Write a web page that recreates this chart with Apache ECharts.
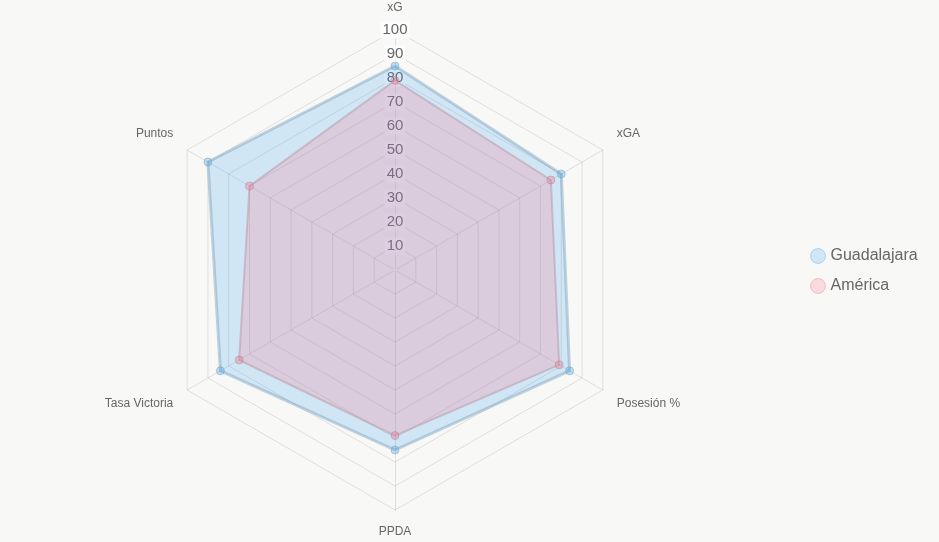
<!DOCTYPE html>
<html>
<head>
<meta charset="utf-8">
<script src="https://cdn.jsdelivr.net/npm/echarts@6/dist/echarts.min.js"></script>
<style>
  html, body { margin: 0; padding: 0; background: #f8f8f7; }
  #chart { width: 939px; height: 542px; }
</style>
</head>
<body>
<div id="chart"></div>
<script>
// ejes del radar (orden en sentido horario desde arriba)
const indicators = ['xG', 'xGA', 'Posesión %', 'PPDA', 'Tasa Victoria', 'Puntos']
const teams = ['Guadalajara', 'América']
const guadalajara = [85, 80, 84, 75, 84, 90]
const america = [79, 75, 79, 69, 75, 70]

// echarts dibuja el radar en sentido antihorario, hay que invertir el orden
const order = [0, 5, 4, 3, 2, 1]
const reorder = arr => order.map(i => arr[i])

const chart = echarts.init(document.getElementById('chart'))

const option = {
  backgroundColor: '#f8f8f7',
  textStyle: { fontFamily: 'Liberation Sans, Arial, sans-serif' },
  legend: {
    data: [
      { name: teams[0], itemStyle: { color: 'rgba(54,162,235,0.2)', borderColor: 'rgba(54,162,235,0.35)', borderWidth: 1 } },
      { name: teams[1], itemStyle: { color: 'rgba(255,99,132,0.2)', borderColor: 'rgba(255,99,132,0.35)', borderWidth: 1 } }
    ],
    orient: 'vertical',
    left: 805,
    top: 'middle',
    icon: 'circle',
    itemWidth: 15,
    itemHeight: 15,
    itemGap: 14,
    textStyle: { color: '#666', fontSize: 16 }
  },
  radar: {
    center: [395, 270],
    radius: 240,
    startAngle: 90,
    shape: 'polygon',
    splitNumber: 10,
    nameGap: 16,
    axisName: {
      color: '#666',
      fontSize: 12,
      // los nombres laterales quedan un poco más separados en vertical
      formatter: name => {
        if (name === 'xGA' || name === 'Puntos') return '{up|' + name + '}'
        if (name === 'Posesión %' || name === 'Tasa Victoria') return '{down|' + name + '}'
        return name
      },
      rich: {
        up: { color: '#666', fontSize: 12, padding: [0, 0, 16, 0] },
        down: { color: '#666', fontSize: 12, padding: [12, 0, 0, 0] }
      }
    },
    // las etiquetas solo en el primer eje (xG)
    indicator: reorder(indicators).map((name, i) => {
      const item = { name: name, min: 0, max: 100 }
      if (i === 0) {
        item.axisLabel = {
          show: true,
          color: '#666',
          fontSize: 15,
          margin: 0,
          align: 'center',
          verticalAlign: 'middle',
          backgroundColor: 'rgba(255,255,255,0.75)',
          padding: [1, 2],
          formatter: v => (v === 0 ? '' : v)
        }
      }
      return item
    }),
    axisLabel: { show: false },
    axisLine: { lineStyle: { color: 'rgba(0,0,0,0.1)' } },
    splitLine: { lineStyle: { color: 'rgba(0,0,0,0.1)' } },
    splitArea: { show: false }
  },
  series: [
    {
      type: 'radar',
      symbol: 'circle',
      symbolSize: 8,
      data: [
        {
          name: teams[0],
          value: reorder(guadalajara),
          itemStyle: { color: 'rgba(54,162,235,0.3)', borderColor: 'rgba(130,160,185,0.5)', borderWidth: 1 },
          lineStyle: { color: 'rgba(150,175,195,0.55)', width: 3 },
          areaStyle: { color: 'rgba(54,162,235,0.2)', opacity: 1 }
        },
        {
          name: teams[1],
          value: reorder(america),
          itemStyle: { color: 'rgba(255,99,132,0.3)', borderColor: 'rgba(170,135,155,0.5)', borderWidth: 1 },
          lineStyle: { color: 'rgba(175,155,170,0.5)', width: 2 },
          areaStyle: { color: 'rgba(255,99,132,0.2)', opacity: 1 }
        }
      ]
    }
  ]
}

chart.setOption(option)
</script>
</body>
</html>
